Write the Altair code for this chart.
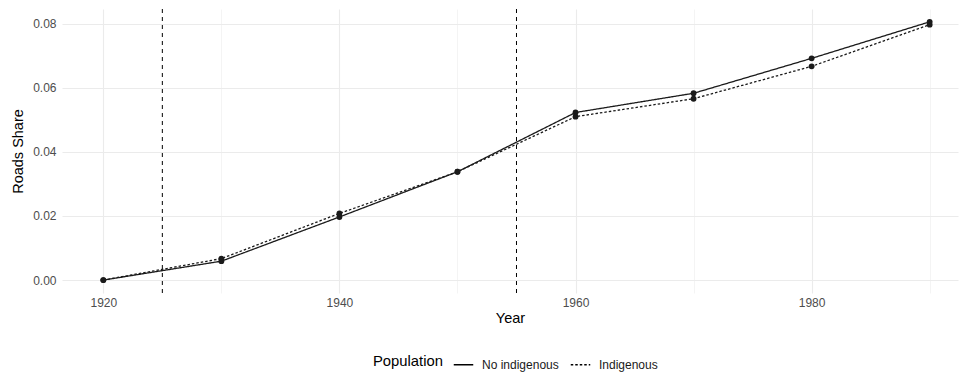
import altair as alt
import pandas as pd

# Share of roads over time, by population group
years = [1920, 1930, 1940, 1950, 1960, 1970, 1980, 1990]
no_indigenous = [0.0, 0.0059, 0.0197, 0.0338, 0.0523, 0.0583, 0.0692, 0.0806]
indigenous = [0.0, 0.0067, 0.0208, 0.0338, 0.0510, 0.0566, 0.0667, 0.0797]
groups = ["No indigenous", "Indigenous"]
cutoff_years = [1925, 1955]

rows = []
for y, a, b in zip(years, no_indigenous, indigenous):
    rows.append({"Year": y, "Share": a, "Population": groups[0]})
    rows.append({"Year": y, "Share": b, "Population": groups[1]})
df = pd.DataFrame(rows)
cuts = pd.DataFrame({"Year": cutoff_years})

FONT = "Liberation Sans"
INK = "#1a1a1a"

x_scale = alt.Scale(domain=[1916.5, 1992.4], nice=False, zero=False)
y_scale = alt.Scale(domain=[-0.00403, 0.0846], nice=False, zero=False)

x_axis = alt.Axis(
    title="Year",
    values=list(range(1920, 1991, 10)),
    labelExpr="datum.value % 20 == 0 ? datum.label : ''",
    format="d",
    gridWidth={"condition": {"test": "datum.value % 20 != 0", "value": 0.55}, "value": 1.1},
    labelPadding=4,
    titlePadding=3,
)
y_axis = alt.Axis(
    title="Roads Share",
    values=[i / 100 for i in range(0, 9)],
    format=".2f",
    labelExpr="round(datum.value * 100) % 2 == 0 ? datum.label : ''",
    gridWidth={"condition": {"test": "round(datum.value * 100) % 2 == 1", "value": 0.55}, "value": 1.1},
    labelPadding=6,
    titlePadding=7,
)

dash_scale = alt.Scale(domain=groups, range=[[1, 0], [2.5, 2]])

base = alt.Chart(df)

lines = base.mark_line(color=INK, strokeWidth=1.3).encode(
    x=alt.X("Year:Q", scale=x_scale, axis=x_axis),
    y=alt.Y("Share:Q", scale=y_scale, axis=y_axis),
    strokeDash=alt.StrokeDash(
        "Population:N",
        scale=dash_scale,
        sort=groups,
        legend=alt.Legend(
            title="Population",
            orient="none",
            legendX=311,
            legendY=345,
            direction="horizontal",
            titleOrient="left",
            symbolType="stroke",
            symbolStrokeColor="black",
            symbolStrokeWidth=1.3,
            symbolSize=380,
            labelFontSize=12,
            labelFont=FONT,
            labelColor="#1a1a1a",
            titleFontSize=14.8,
            titleFont=FONT,
            titleFontWeight="normal",
            titleColor="black",
            titlePadding=10,
            labelOffset=8,
            columnPadding=9,
        ),
    ),
)

points = base.mark_circle(color=INK, size=34, opacity=1).encode(
    x="Year:Q",
    y="Share:Q",
)

rules = alt.Chart(cuts).mark_rule(color="black", strokeDash=[4, 4], strokeWidth=1).encode(
    x="Year:Q",
)

chart = (
    alt.layer(rules, lines, points)
    .properties(
        width=896,
        height=284,
        background="white",
        autosize=alt.AutoSizeParams(type="none"),
        padding={"left": 62, "top": 9, "right": 2, "bottom": 83},
    )
    .configure_view(stroke=None)
    .configure_axis(
        domain=False,
        ticks=False,
        gridColor="#EBEBEB",
        labelFont=FONT,
        labelFontSize=12,
        labelColor="#4D4D4D",
        titleFont=FONT,
        titleFontSize=14.5,
        titleFontWeight="normal",
        titleColor="black",
    )
)

chart.save("out.html", embed_options={"renderer": "svg", "actions": False})
